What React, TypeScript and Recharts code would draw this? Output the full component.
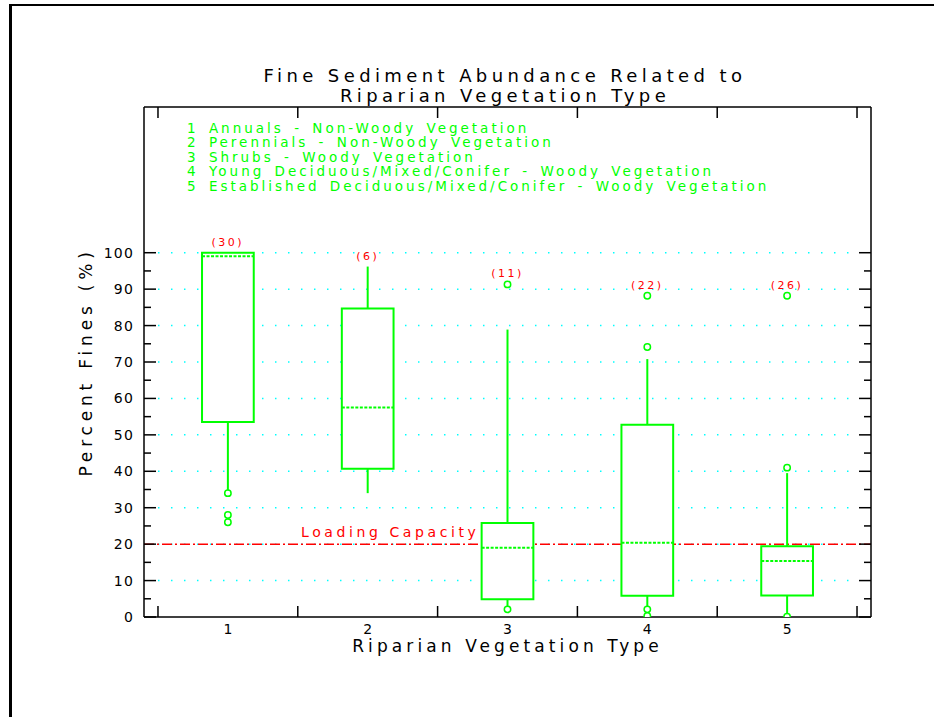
import React from "react";
import { ComposedChart, XAxis, YAxis, ReferenceArea, ReferenceLine, Scatter } from "recharts";

// vegetation types along the x axis
const categories = [1, 2, 3, 4, 5];
const sampleCounts = [30, 6, 11, 22, 26];
const lowerQuartile = [53.5, 40.7, 4.9, 5.8, 5.9];
const medianFines = [99, 57.5, 19, 20.4, 15.4];
const upperQuartile = [100, 84.7, 25.8, 52.8, 19.4];
const whiskerLow = [34, 34, 2.1, 2.1, 0.1];
const whiskerHigh = [100, 96.2, 78.9, 70.8, 39.5];
const outliers = [
  [34, 28, 26],
  [],
  [91.3, 2.1],
  [88.2, 74.1, 2.1, 0.3],
  [88.2, 41, 0.1],
];
const loadingCapacity = 20;

const xLabelTicks = [1, 2, 3, 4, 5];
const xMarkTicks = [0.5, 1.5, 2.5, 3.5, 4.5, 5.5];
const yMajorTicks = [0, 10, 20, 30, 40, 50, 60, 70, 80, 90, 100];
const yMinorTicks = [5, 15, 25, 35, 45, 55, 65, 75, 85, 95];
const gridLevels = [10, 20, 30, 40, 50, 60, 70, 80, 90, 100];

const titleLines = ["Fine Sediment Abundance Related to", "Riparian Vegetation Type"];
const legendLines = [
  "1 Annuals - Non-Woody Vegetation",
  "2 Perennials - Non-Woody Vegetation",
  "3 Shrubs - Woody Vegetation",
  "4 Young Deciduous/Mixed/Conifer - Woody Vegetation",
  "5 Established Deciduous/Mixed/Conifer - Woody Vegetation",
];

const GREEN = "#00ff00";
const RED = "#ff0000";
const CYAN = "#00ffff";
const FONT = '"DejaVu Sans", Verdana, sans-serif';
const X_DOMAIN: [number, number] = [0.4, 5.6];
const Y_DOMAIN: [number, number] = [0, 140];
const BOX_HALF = 0.185;
const X_TICK_MARGIN = 7;
const X_TICK_LEN = 11;

const axisLine = { stroke: "#000", strokeWidth: 1.5 };
const tickText = { fill: "#000", fontSize: 14, fontFamily: FONT, letterSpacing: 1.2 };

// bottom axis: numbers at the types, short inward marks half way between
function BottomTick(p: any) {
  const v = p.payload.value;
  if (Number.isInteger(v)) {
    return (
      <text x={p.x} y={p.y} dy="0.71em" textAnchor="middle" fill="#000" fontSize={14} fontFamily={FONT}>
        {v}
      </text>
    );
  }
  const axisY = p.y - X_TICK_MARGIN;
  return <line x1={p.x} x2={p.x} y1={axisY} y2={axisY - X_TICK_LEN} stroke="#000" strokeWidth={1.5} />;
}

function TopTick(p: any) {
  return <line x1={p.x} x2={p.x} y1={p.y} y2={p.y + X_TICK_LEN} stroke="#000" strokeWidth={1.5} />;
}

function tickLen(v: number) {
  return v % 10 === 0 ? 12 : 7;
}

function LeftTick(p: any) {
  return <line x1={p.x} x2={p.x + tickLen(p.payload.value)} y1={p.y} y2={p.y} stroke="#000" strokeWidth={1.5} />;
}

function RightTick(p: any) {
  return <line x1={p.x} x2={p.x - tickLen(p.payload.value)} y1={p.y} y2={p.y} stroke="#000" strokeWidth={1.5} />;
}

function renderLoadingLabel(props: any) {
  const vb = props.viewBox || {};
  return (
    <text x={vb.x + 157} y={vb.y - 7} fill={RED} fontSize={14} fontFamily={FONT} letterSpacing={3.6}>
      Loading Capacity
    </text>
  );
}

export default function App() {
  const bottomTicks = [...xMarkTicks, ...xLabelTicks].sort((a, b) => a - b);
  const allYTicks = [...yMajorTicks, ...yMinorTicks].sort((a, b) => a - b);
  const outlierPoints = categories.flatMap((c, i) => outliers[i].map((v) => ({ x: c, y: v })));
  const countPoints = categories.map((c, i) => ({
    x: c,
    y: Math.max(whiskerHigh[i], upperQuartile[i], ...outliers[i]),
    label: `(${sampleCounts[i]})`,
  }));

  return (
    <div style={{ position: "absolute", left: 0, top: 0, width: 934, height: 717, background: "#fff", fontFamily: FONT }}>
      {/* page frame */}
      <div style={{ position: "absolute", left: 9, top: 4, right: 0, height: 2, background: "#000" }} />
      <div style={{ position: "absolute", left: 9, top: 4, width: 3, bottom: 0, background: "#000" }} />

      <ComposedChart width={934} height={717} margin={{ top: 107, right: 63, bottom: 60, left: 84 }}>
        <XAxis
          xAxisId="b"
          dataKey="x"
          type="number"
          domain={X_DOMAIN}
          allowDataOverflow
          ticks={bottomTicks}
          interval={0}
          height={40}
          tickLine={false}
          tickSize={0}
          tickMargin={X_TICK_MARGIN}
          axisLine={axisLine}
          tick={BottomTick}
          label={{
            value: "Riparian Vegetation Type",
            position: "insideBottom",
            offset: 5,
            style: { fill: "#000", fontSize: 17, fontFamily: FONT, letterSpacing: 4.1 },
          }}
        />
        <XAxis
          xAxisId="t"
          dataKey="x"
          orientation="top"
          type="number"
          domain={X_DOMAIN}
          allowDataOverflow
          ticks={xMarkTicks}
          interval={0}
          mirror
          tick={TopTick}
          tickLine={false}
          tickSize={0}
          tickMargin={0}
          axisLine={axisLine}
        />

        <YAxis
          yAxisId="l"
          dataKey="y"
          type="number"
          domain={Y_DOMAIN}
          allowDataOverflow
          ticks={yMajorTicks}
          width={60}
          tickLine={false}
          tickSize={0}
          tickMargin={10}
          axisLine={axisLine}
          tick={tickText}
          label={{
            value: "Percent Fines (%)",
            angle: -90,
            position: "insideLeft",
            offset: 2,
            style: { textAnchor: "middle", fill: "#000", fontSize: 17, fontFamily: FONT, letterSpacing: 4.8 },
          }}
        />
        <YAxis
          yAxisId="lm"
          type="number"
          domain={Y_DOMAIN}
          allowDataOverflow
          ticks={allYTicks}
          interval={0}
          mirror
          tick={LeftTick}
          tickLine={false}
          tickSize={0}
          tickMargin={0}
          axisLine={false}
        />
        <YAxis
          yAxisId="r"
          orientation="right"
          type="number"
          domain={Y_DOMAIN}
          allowDataOverflow
          ticks={allYTicks}
          interval={0}
          mirror
          tick={RightTick}
          tickLine={false}
          tickSize={0}
          tickMargin={0}
          axisLine={axisLine}
        />

        {/* dotted grid */}
        {gridLevels.map((v) => (
          <ReferenceLine
            key={`g${v}`}
            xAxisId="b"
            yAxisId="l"
            segment={[{ x: xMarkTicks[0], y: v }, { x: xMarkTicks[xMarkTicks.length - 1], y: v }]}
            stroke={CYAN}
            strokeWidth={1.5}
            strokeDasharray="1.5 11.5"
            zIndex={-50}
          />
        ))}

        <ReferenceLine
          xAxisId="b"
          yAxisId="l"
          y={loadingCapacity}
          stroke={RED}
          strokeWidth={1.5}
          strokeDasharray="10 3 2 3"
          zIndex={-40}
          label={{ value: "Loading Capacity", content: renderLoadingLabel }}
        />

        {/* boxes */}
        {categories.map((c, i) => (
          <ReferenceArea
            key={`box${c}`}
            xAxisId="b"
            yAxisId="l"
            x1={c - BOX_HALF}
            x2={c + BOX_HALF}
            y1={lowerQuartile[i]}
            y2={upperQuartile[i]}
            fill="#fff"
            fillOpacity={1}
            stroke={GREEN}
            strokeWidth={2}
            zIndex={100}
          />
        ))}

        {/* whiskers */}
        {categories.map((c, i) => (
          <ReferenceLine
            key={`wl${c}`}
            xAxisId="b"
            yAxisId="l"
            segment={[{ x: c, y: whiskerLow[i] }, { x: c, y: lowerQuartile[i] }]}
            stroke={GREEN}
            strokeWidth={2}
            zIndex={200}
          />
        ))}
        {categories.map((c, i) => (
          <ReferenceLine
            key={`wh${c}`}
            xAxisId="b"
            yAxisId="l"
            segment={[{ x: c, y: upperQuartile[i] }, { x: c, y: whiskerHigh[i] }]}
            stroke={GREEN}
            strokeWidth={2}
            zIndex={200}
          />
        ))}

        {/* medians */}
        {categories.map((c, i) => (
          <ReferenceLine
            key={`m${c}`}
            xAxisId="b"
            yAxisId="l"
            segment={[{ x: c - BOX_HALF, y: medianFines[i] }, { x: c + BOX_HALF, y: medianFines[i] }]}
            stroke={GREEN}
            strokeWidth={2}
            strokeDasharray="3 1.5"
            zIndex={200}
          />
        ))}

        <Scatter
          xAxisId="b"
          yAxisId="l"
          data={outlierPoints}
          isAnimationActive={false}
          zIndex={600}
          shape={(p: any) => <circle cx={p.cx} cy={p.cy} r={3.2} fill="#fff" stroke={GREEN} strokeWidth={1.5} />}
        />
        {/* sample counts, bound to the top axis (same domain) */}
        <Scatter
          xAxisId="t"
          yAxisId="l"
          data={countPoints}
          isAnimationActive={false}
          zIndex={600}
          shape={(p: any) => (
            <text x={p.cx} y={p.cy - 7} textAnchor="middle" fill={RED} fontSize={11} fontFamily={FONT} letterSpacing={2.5}>
              {p.payload.label}
            </text>
          )}
        />
      </ComposedChart>

      {/* title */}
      <div
        style={{
          position: "absolute",
          left: 205,
          top: 66,
          width: 600,
          textAlign: "center",
          fontSize: 18,
          lineHeight: "20px",
          letterSpacing: 4.4,
          color: "#000",
          whiteSpace: "pre",
          pointerEvents: "none",
        }}
      >
        {titleLines.map((t) => (
          <div key={t}>{t}</div>
        ))}
      </div>

      {/* legend text */}
      <div
        style={{
          position: "absolute",
          left: 187,
          top: 120.5,
          fontSize: 13.5,
          lineHeight: "14.6px",
          letterSpacing: 3,
          wordSpacing: 3,
          color: GREEN,
          whiteSpace: "pre",
          pointerEvents: "none",
        }}
      >
        {legendLines.map((t) => (
          <div key={t}>{t}</div>
        ))}
      </div>
    </div>
  );
}
